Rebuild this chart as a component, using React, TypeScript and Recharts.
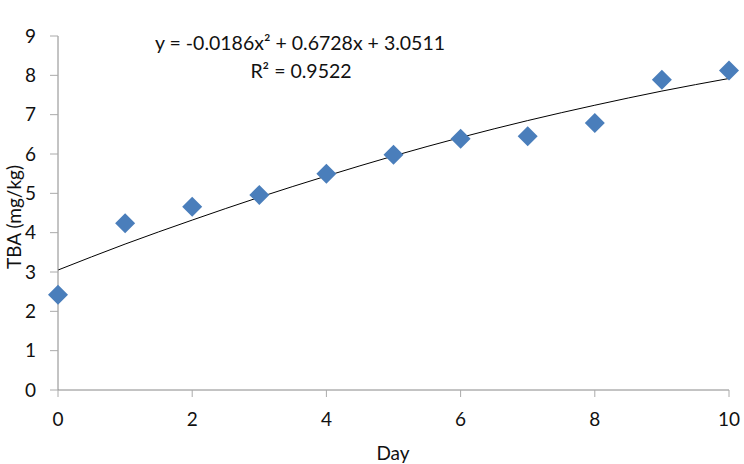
import React from 'react';
import { ComposedChart, Scatter, Line, XAxis, YAxis } from 'recharts';

const days = [0, 1, 2, 3, 4, 5, 6, 7, 8, 9, 10];
const tba = [2.42, 4.24, 4.66, 4.96, 5.5, 5.98, 6.39, 6.45, 6.79, 7.89, 8.12];
const trend = [3.05, 3.71, 4.32, 4.9, 5.44, 5.95, 6.42, 6.85, 7.24, 7.6, 7.92];
const xTicks = [0, 2, 4, 6, 8, 10];
const yTicks = [0, 1, 2, 3, 4, 5, 6, 7, 8, 9];
const equation = 'y = -0.0186x² + 0.6728x + 3.0511';
const rSquared = 'R² = 0.9522';
const xLabel = 'Day';
const yLabel = 'TBA (mg/kg)';

const data = days.map((d, i) => ({ x: d, y: tba[i], t: trend[i] }));

const FONT = 'Lato, "Open Sans", sans-serif';

const Diamond = (props: any) => {
  const { cx, cy } = props;
  if (cx == null || cy == null) return null;
  const r = 10;
  return (
    <path
      d={`M${cx},${cy - r} L${cx + r},${cy} L${cx},${cy + r} L${cx - r},${cy} Z`}
      fill="#4a7ebb"
    />
  );
};

export default function App() {
  return (
    <div style={{ position: 'absolute', left: 0, top: 0, width: 744, height: 464, background: '#fff', fontFamily: FONT }}>
      <ComposedChart
        width={744}
        height={464}
        data={data}
        margin={{ top: 36, right: 15, bottom: 44, left: 28 }}
      >
        <XAxis
          dataKey="x"
          type="number"
          domain={[0, 10]}
          ticks={xTicks}
          height={30}
          stroke="#888"
          tickSize={7}
          tickMargin={16}
          tick={{ fill: '#111', fontSize: 19, fontFamily: FONT }}
          tickLine={{ stroke: '#aaa' }}
        />
        <YAxis
          type="number"
          domain={[0, 9]}
          ticks={yTicks}
          width={30}
          stroke="#888"
          tickSize={8}
          tickMargin={14}
          tick={{ fill: '#111', fontSize: 19, fontFamily: FONT }}
          tickLine={{ stroke: '#aaa' }}
          interval={0}
        />
        <Line
          dataKey="t"
          type="monotone"
          stroke="#000"
          strokeWidth={1}
          dot={false}
          activeDot={false}
          isAnimationActive={false}
        />
        <Scatter dataKey="y" shape={<Diamond />} isAnimationActive={false} />
      </ComposedChart>
      <div style={{ position: 'absolute', left: 300, top: 42, transform: 'translate(-50%,-50%)', fontSize: 19.5, color: '#111', whiteSpace: 'nowrap' }}>
        {equation}
      </div>
      <div style={{ position: 'absolute', left: 301, top: 70, transform: 'translate(-50%,-50%)', fontSize: 19.5, color: '#111', whiteSpace: 'nowrap' }}>
        {rSquared}
      </div>
      <div style={{ position: 'absolute', left: 393, top: 452, transform: 'translate(-50%,-50%)', fontSize: 19, color: '#111', whiteSpace: 'nowrap' }}>
        {xLabel}
      </div>
      <div style={{ position: 'absolute', left: 13, top: 217, transform: 'translate(-50%,-50%) rotate(-90deg)', fontSize: 19, color: '#111', whiteSpace: 'nowrap' }}>
        {yLabel}
      </div>
    </div>
  );
}
